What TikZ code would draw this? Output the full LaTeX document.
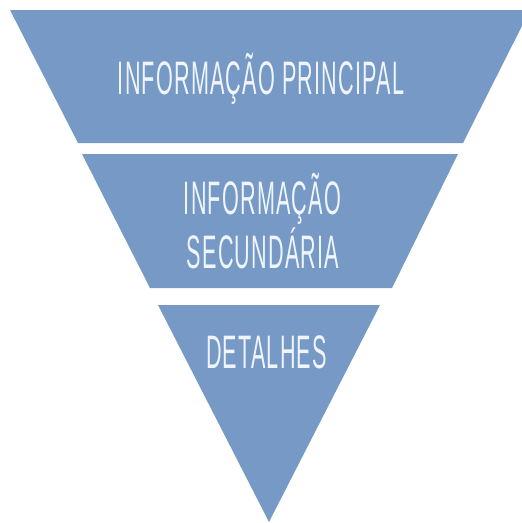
\documentclass[tikz,border=0pt]{standalone}
\usepackage{fontspec}
\newfontfamily\agency{Liberation Sans}[FakeStretch=0.46, LetterSpace=2.5]
\definecolor{pyrblue}{RGB}{118,153,197}
\definecolor{pyrtext}{RGB}{240,245,252}
\tikzset{
  layer/.style={fill=pyrblue, draw=none},
  label/.style={text=pyrtext, font=\agency\fontsize{47}{54}\selectfont, anchor=base, inner sep=0pt, align=center}
}
\begin{document}
\begin{tikzpicture}[x=1pt,y=-1pt]
\useasboundingbox (0,0) rectangle (522,523);
\fill[layer] (10,10) -- (530,10) -- (463,143) -- (78,143) -- cycle;
\fill[layer] (82,154) -- (458,154) -- (392,288) -- (150,288) -- cycle;
\fill[layer] (158,305) -- (380,305) -- (269,522) -- cycle;
\node[label] (principal) at (261,94) {INFORMAÇÃO PRINCIPAL};
\node[label] (sec1) at (262.5,214) {INFORMAÇÃO};
\node[label] (sec2) at (263,268) {SECUNDÁRIA};
\node[label] (det) at (266.5,368) {DETALHES};
\end{tikzpicture}
\end{document}
